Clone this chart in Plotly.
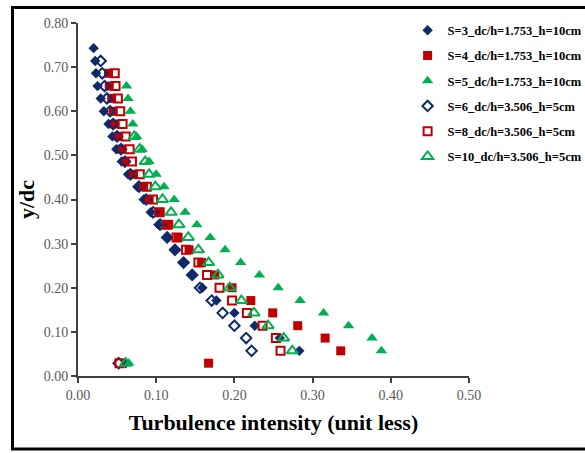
import plotly.graph_objects as go

# y/dc levels (top -> bottom)
y_levels = [0.743, 0.714, 0.686, 0.657, 0.629, 0.600, 0.571, 0.543, 0.514, 0.486,
            0.457, 0.429, 0.400, 0.371, 0.343, 0.314, 0.286, 0.257, 0.229, 0.200,
            0.171, 0.143, 0.114, 0.086, 0.057, 0.029]

s3_y = y_levels[0:]
s3_x = [0.020, 0.022, 0.023, 0.025, 0.029, 0.033, 0.039, 0.044, 0.049, 0.056,
        0.064, 0.076, 0.084, 0.093, 0.103, 0.114, 0.124, 0.135, 0.146, 0.159,
        0.177, 0.200, 0.226, 0.258, 0.283, 0.061]

s4_y = y_levels[2:]
s4_x = [0.039, 0.040, 0.043, 0.045, 0.047, 0.052, 0.056, 0.060, 0.071, 0.084,
        0.091, 0.105, 0.116, 0.128, 0.142, 0.158, 0.175, 0.197, 0.221, 0.249,
        0.281, 0.316, 0.336, 0.167]

s5_y = y_levels[3:]
s5_x = [0.062, 0.064, 0.067, 0.070, 0.075, 0.082, 0.091, 0.100, 0.110, 0.123,
        0.137, 0.152, 0.169, 0.188, 0.208, 0.232, 0.256, 0.284, 0.314, 0.346,
        0.376, 0.388, 0.065]

s6_y = y_levels[1:]
s6_x = [0.029, 0.031, 0.034, 0.037, 0.041, 0.045, 0.050, 0.055, 0.060, 0.067,
        0.078, 0.087, 0.096, 0.105, 0.114, 0.124, 0.135, 0.146, 0.156, 0.171,
        0.185, 0.200, 0.215, 0.222, 0.052]

s8_y = y_levels[2:]
s8_x = [0.047, 0.048, 0.051, 0.054, 0.057, 0.061, 0.066, 0.069, 0.079, 0.088,
        0.096, 0.104, 0.114, 0.126, 0.138, 0.154, 0.165, 0.181, 0.197, 0.216,
        0.236, 0.253, 0.259, 0.053]

s10_y = y_levels[7:]
s10_x = [0.072, 0.079, 0.086, 0.091, 0.099, 0.108, 0.119, 0.129, 0.141, 0.154,
         0.167, 0.179, 0.194, 0.209, 0.225, 0.243, 0.263, 0.274, 0.061]

names = ["S=3_dc/h=1.753_h=10cm", "S=4_dc/h=1.753_h=10cm", "S=5_dc/h=1.753_h=10cm",
         "S=6_dc/h=3.506_h=5cm", "S=8_dc/h=3.506_h=5cm", "S=10_dc/h=3.506_h=5cm"]

NAVY = "#0F2A6B"
RED = "#C00000"
GREEN = "#00B050"

series = [
    (s3_x, s3_y, dict(symbol="diamond", size=8, color=NAVY)),
    (s4_x, s4_y, dict(symbol="square", size=9, color=RED)),
    (s5_x, s5_y, dict(symbol="triangle-up", size=10, color=GREEN)),
    (s6_x, s6_y, dict(symbol="diamond-open", size=8, color=NAVY, line=dict(width=2, color=NAVY))),
    (s8_x, s8_y, dict(symbol="square-open", size=8, color=RED, line=dict(width=2, color=RED))),
    (s10_x, s10_y, dict(symbol="triangle-up-open", size=10, color=GREEN, line=dict(width=2, color=GREEN))),
]

fig = go.Figure()
for i, (xs, ys, mk) in enumerate(series):
    fig.add_trace(go.Scatter(x=xs, y=ys, mode="markers", name=names[i],
                             marker=mk, legendgroup=f"g{i}"))

SERIF = "Liberation Serif, Times New Roman, serif"
axis_common = dict(
    showgrid=False, zeroline=False, showline=True, linecolor="#404040", linewidth=2,
    ticks="outside", ticklen=5, tickwidth=2, tickcolor="#404040",
    tickfont=dict(family=SERIF, size=14, color="#595959"),
    tickformat=".2f", dtick=0.1, tick0=0,
)

fig.update_layout(
    width=585, height=453,
    margin=dict(l=78, r=116, t=23, b=76.5, autoexpand=False),
    paper_bgcolor="white", plot_bgcolor="white",
    xaxis=dict(range=[0, 0.5], **axis_common,
               title=dict(text="Turbulence intensity (unit less)",
                          font=dict(family=SERIF, size=22, color="black", weight="bold"),
                          standoff=13)),
    yaxis=dict(range=[0, 0.8], **axis_common,
               title=dict(text="y/dc", font=dict(family=SERIF, size=22, color="black", weight="bold"),
                          standoff=3)),
    legend=dict(x=0.843, y=1.021, xanchor="left", yanchor="top",
                bgcolor="rgba(0,0,0,0)", traceorder="grouped", tracegroupgap=6,
                font=dict(family=SERIF, size=12.5, color="black", weight="bold")),
    showlegend=True,
    shapes=[dict(type="rect", xref="paper", yref="paper",
                 x0=-0.1675, x1=1.4, y0=-0.2065, y1=1.0438,
                 line=dict(color="black", width=3), layer="below")],
)

fig.write_html("out.html")
